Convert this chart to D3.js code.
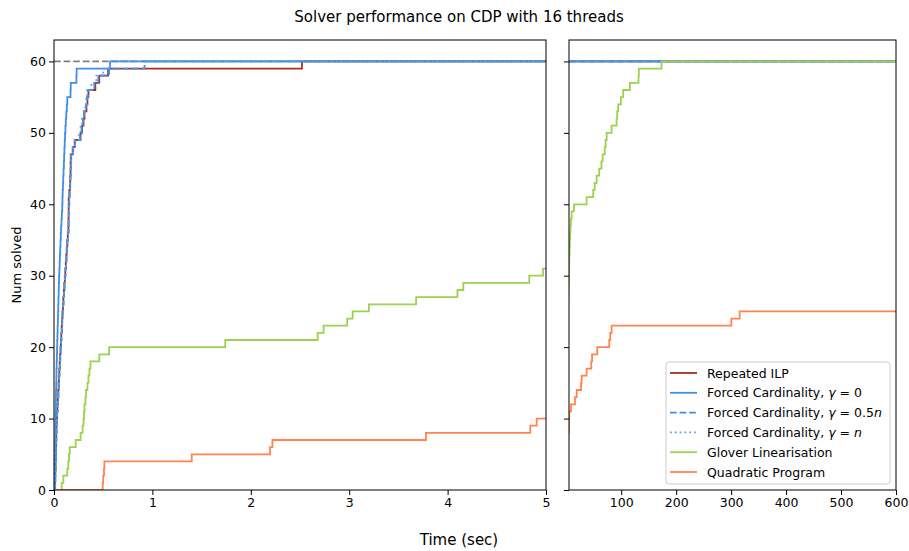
<!DOCTYPE html>
<html>
<head>
<meta charset="utf-8">
<script src="https://cdn.jsdelivr.net/npm/d3@7"></script>
<style>
  body { margin: 0; background: #fff; }
  svg { font-family: "DejaVu Sans", sans-serif; }
</style>
</head>
<body>
<svg width="909" height="551"></svg>
<script>
// Solve times (sec), sorted: the k-th entry is when k instances were solved
var repeatedIlp = [0.010, 0.012, 0.014, 0.016, 0.018, 0.020, 0.021, 0.023, 0.025, 0.027,
  0.031, 0.035, 0.039, 0.043, 0.047, 0.050, 0.054, 0.058, 0.062, 0.066,
  0.070, 0.074, 0.078, 0.082, 0.086, 0.091, 0.095, 0.100, 0.105, 0.110,
  0.115, 0.120, 0.125, 0.129, 0.135, 0.140, 0.146, 0.147, 0.148, 0.149,
  0.150, 0.156, 0.162, 0.165, 0.168, 0.169, 0.170, 0.190, 0.210, 0.270,
  0.285, 0.300, 0.310, 0.330, 0.340, 0.350, 0.420, 0.460, 0.550, 2.520];

var forcedG0 = [0.005, 0.007, 0.008, 0.009, 0.010, 0.011, 0.012, 0.013, 0.014, 0.015,
  0.016, 0.018, 0.019, 0.020, 0.022, 0.024, 0.025, 0.027, 0.029, 0.031,
  0.033, 0.035, 0.037, 0.039, 0.041, 0.043, 0.045, 0.047, 0.049, 0.051,
  0.054, 0.057, 0.060, 0.063, 0.066, 0.069, 0.072, 0.076, 0.080, 0.084,
  0.086, 0.088, 0.091, 0.094, 0.097, 0.100, 0.103, 0.106, 0.109, 0.112,
  0.116, 0.120, 0.125, 0.130, 0.135, 0.168, 0.170, 0.228, 0.230, 0.570];

var forcedGHalf = [0.012, 0.014, 0.016, 0.018, 0.020, 0.022, 0.023, 0.025, 0.027, 0.029,
  0.033, 0.037, 0.041, 0.045, 0.049, 0.052, 0.056, 0.060, 0.064, 0.068,
  0.072, 0.076, 0.080, 0.084, 0.088, 0.093, 0.097, 0.102, 0.107, 0.112,
  0.117, 0.122, 0.127, 0.131, 0.137, 0.142, 0.148, 0.150, 0.152, 0.154,
  0.156, 0.160, 0.165, 0.168, 0.171, 0.173, 0.175, 0.195, 0.215, 0.265,
  0.280, 0.295, 0.305, 0.325, 0.335, 0.345, 0.410, 0.450, 0.560, 0.920];

var forcedGN = [0.011, 0.013, 0.015, 0.017, 0.019, 0.021, 0.022, 0.024, 0.026, 0.028,
  0.032, 0.036, 0.040, 0.044, 0.048, 0.051, 0.055, 0.059, 0.063, 0.067,
  0.071, 0.075, 0.079, 0.083, 0.087, 0.092, 0.096, 0.101, 0.106, 0.111,
  0.116, 0.121, 0.126, 0.130, 0.136, 0.141, 0.147, 0.149, 0.151, 0.153,
  0.155, 0.158, 0.163, 0.166, 0.169, 0.171, 0.173, 0.192, 0.212, 0.255,
  0.270, 0.285, 0.300, 0.318, 0.328, 0.338, 0.380, 0.430, 0.500, 0.570];

var glover = [0.078, 0.095, 0.135, 0.145, 0.152, 0.160, 0.220, 0.270, 0.290, 0.300,
  0.305, 0.310, 0.320, 0.325, 0.340, 0.350, 0.360, 0.370, 0.460, 0.560,
  1.74, 2.68, 2.74, 2.98, 3.035, 3.20, 3.68, 4.10, 4.16, 4.83,
  4.97, 5.3, 5.6, 6.0, 6.5, 7.0, 7.6, 8.5, 9.9, 14,
  37.1, 49.1, 51.7, 55.3, 60.0, 64.0, 66.2, 70.0, 71.6, 73.5,
  82.5, 91.5, 92.7, 94.5, 99.4, 103.6, 115.8, 131.5, 132.1, 173.3];

var quadratic = [0.495, 0.500, 0.508, 0.512, 1.40, 2.195, 2.22, 3.78, 4.84, 4.905,
  5.5, 8.6, 15.9, 19.0, 27.0, 28.0, 37.0, 45.5, 47.0, 56.4,
  78.2, 80.0, 82.5, 300.4, 315.5];

var seriesNames = ["Repeated ILP", "Forced Cardinality, γ = 0", "Forced Cardinality, γ = 0.5n",
  "Forced Cardinality, γ = n", "Glover Linearisation", "Quadratic Program"];
var seriesTimes = [repeatedIlp, forcedG0, forcedGHalf, forcedGN, glover, quadratic];

var totalInstances = 60;
var yTicks = [0, 10, 20, 30, 40, 50, 60];
var leftTicks = [0, 1, 2, 3, 4, 5];
var rightTicks = [100, 200, 300, 400, 500, 600];

// styles
var colors = ["#a5301d", "#3f8fe3", "#3f8fe3", "#58a0f0", "#9bd24f", "#ff8450"];
var dashes = [null, null, "6.7,2.9", "1.8,3", null, null];

var svg = d3.select("svg");
var plotTop = 40, plotBottom = 490;

var y = d3.scaleLinear().domain([0, 63]).range([plotBottom, plotTop]);

var panels = [
  { x: d3.scaleLinear().domain([0, 5]).range([54, 546]), ticks: leftTicks, labels: true, id: "cl" },
  { x: d3.scaleLinear().domain([5, 600]).range([569, 896]), ticks: rightTicks, labels: false, id: "cr" }
];

panels.forEach(function(p) {
  var x0 = p.x.range()[0], x1 = p.x.range()[1];
  var xmax = p.x.domain()[1];

  svg.append("clipPath").attr("id", p.id)
    .append("rect").attr("x", x0).attr("y", plotTop).attr("width", x1 - x0).attr("height", plotBottom - plotTop);

  var g = svg.append("g").attr("clip-path", "url(#" + p.id + ")");

  // reference line at total
  g.append("line")
    .attr("x1", x0).attr("x2", x1)
    .attr("y1", y(totalInstances)).attr("y2", y(totalInstances))
    .attr("stroke", "#808080").attr("stroke-width", 1.8)
    .attr("stroke-dasharray", "6.7,2.9");

  var line = d3.line()
    .x(function(d) { return p.x(d[0]); })
    .y(function(d) { return y(d[1]); })
    .curve(d3.curveStepAfter);

  seriesTimes.forEach(function(times, i) {
    var pts = [[0, 0]].concat(times.map(function(t, k) { return [t, k + 1]; }));
    pts.push([xmax, times.length]);
    g.append("path")
      .attr("d", line(pts))
      .attr("fill", "none")
      .attr("stroke", colors[i])
      .attr("stroke-width", 1.8)
      .attr("stroke-dasharray", dashes[i]);
  });

  // axes
  var xAxis = d3.axisBottom(p.x).tickValues(p.ticks).tickSize(5).tickPadding(3).tickFormat(d3.format("d"));
  var gx = svg.append("g").attr("transform", "translate(0," + plotBottom + ")").call(xAxis);
  var yAxis = d3.axisLeft(y).tickValues(yTicks).tickSize(5).tickPadding(3);
  if (!p.labels) yAxis.tickFormat("");
  var gy = svg.append("g").attr("transform", "translate(" + x0 + ",0)").call(yAxis);
  [gx, gy].forEach(function(a) {
    a.select(".domain").remove();
    a.selectAll("text").attr("font-size", 12.5).attr("fill", "#000").attr("font-family", "DejaVu Sans");
    a.selectAll("line").attr("stroke", "#000").attr("stroke-width", 1);
  });

  svg.append("rect")
    .attr("x", x0).attr("y", plotTop).attr("width", x1 - x0).attr("height", plotBottom - plotTop)
    .attr("fill", "none").attr("stroke", "#000").attr("stroke-width", 1);
});

// titles
svg.append("text").attr("x", 459).attr("y", 22).attr("text-anchor", "middle")
  .attr("font-size", 15).text("Solver performance on CDP with 16 threads");
svg.append("text").attr("x", 459).attr("y", 545).attr("text-anchor", "middle")
  .attr("font-size", 15).text("Time (sec)");
svg.append("text").attr("transform", "translate(21,265) rotate(-90)").attr("text-anchor", "middle")
  .attr("font-size", 13).text("Num solved");

// legend
var legend = svg.append("g").attr("transform", "translate(666,362)");
legend.append("rect").attr("width", 224).attr("height", 122).attr("rx", 3)
  .attr("fill", "#fff").attr("fill-opacity", 0.8).attr("stroke", "#cccccc");

seriesNames.forEach(function(name, i) {
  var yy = 11 + i * 19.8;
  legend.append("line").attr("x1", 4).attr("x2", 31).attr("y1", yy).attr("y2", yy)
    .attr("stroke", colors[i]).attr("stroke-width", 1.8).attr("stroke-dasharray", dashes[i]);
  var t = legend.append("text").attr("x", 41).attr("y", yy + 4.5).attr("font-size", 12.5);
  var m = name.match(/^(.*)γ = (.*)$/);
  if (m) {
    t.append("tspan").text(m[1]);
    t.append("tspan").attr("font-style", "italic").text("γ");
    var val = m[2];
    if (val.slice(-1) === "n") {
      t.append("tspan").text(" = " + val.slice(0, -1));
      t.append("tspan").attr("font-style", "italic").text("n");
    } else {
      t.append("tspan").text(" = " + val);
    }
  } else {
    t.text(name);
  }
});
</script>
</body>
</html>
